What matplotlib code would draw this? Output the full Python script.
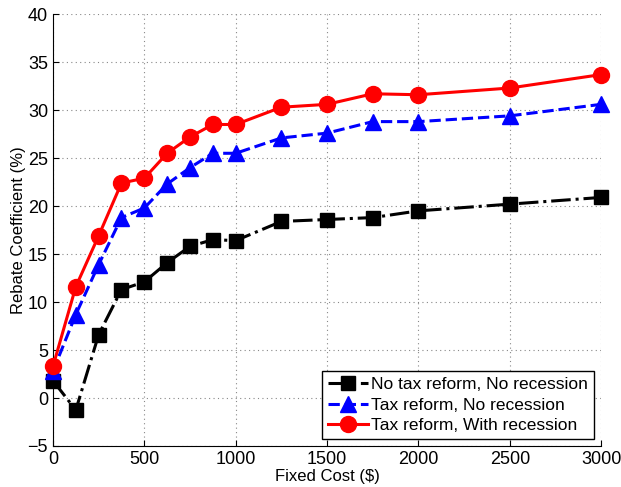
import matplotlib.pyplot as plt

plt.rcParams['font.family'] = ['Liberation Sans', 'DejaVu Sans']

fixed_cost = [0, 125, 250, 375, 500, 625, 750, 875, 1000, 1250, 1500, 1750, 2000, 2500, 3000]
no_reform = [1.8, -1.25, 6.6, 11.3, 12.1, 14.1, 15.8, 16.5, 16.4, 18.4, 18.6, 18.8, 19.5, 20.2, 20.9]
reform_no_rec = [2.8, 8.7, 13.9, 18.8, 19.8, 22.3, 24.0, 25.5, 25.5, 27.1, 27.6, 28.8, 28.8, 29.4, 30.6]
reform_rec = [3.3, 11.6, 16.9, 22.4, 22.9, 25.5, 27.2, 28.5, 28.5, 30.3, 30.6, 31.7, 31.6, 32.3, 33.7]

fig = plt.figure(figsize=(6.21, 4.87), dpi=100)
ax = fig.add_axes([0.0853, 0.0842, 0.8827, 0.8868])

ax.plot(fixed_cost, no_reform, color='black', linestyle='-.', linewidth=2.2,
        marker='s', markersize=10, label='No tax reform, No recession', clip_on=False, zorder=3)
ax.plot(fixed_cost, reform_no_rec, color='blue', linestyle='--', linewidth=2.2,
        marker='^', markersize=12, label='Tax reform, No recession', clip_on=False, zorder=4)
ax.plot(fixed_cost, reform_rec, color='red', linestyle='-', linewidth=2.2,
        marker='o', markersize=11.5, label='Tax reform, With recession', clip_on=False, zorder=5)

ax.set_xlim(0, 3000)
ax.set_ylim(-5, 40)
ax.set_xticks([0, 500, 1000, 1500, 2000, 2500, 3000])
ax.set_yticks(range(-5, 41, 5))
ax.tick_params(direction='in', labelsize=13, length=4)
ax.grid(True, linestyle=(0, (1, 3)), color='#888888', linewidth=0.8)
for s in ['top', 'right']:
    ax.spines[s].set_visible(False)

ax.set_xlabel('Fixed Cost (\\$)', fontsize=12, labelpad=1)
ax.set_ylabel('Rebate Coefficient (%)', fontsize=12, labelpad=1)

leg = ax.legend(loc='lower right', fontsize=12.5, fancybox=False, framealpha=1,
                edgecolor='black', handlelength=2.3, borderpad=0.35,
                labelspacing=0.3, handletextpad=0.2, borderaxespad=0.4)
leg.get_frame().set_linewidth(1.0)

plt.savefig('out.png')
